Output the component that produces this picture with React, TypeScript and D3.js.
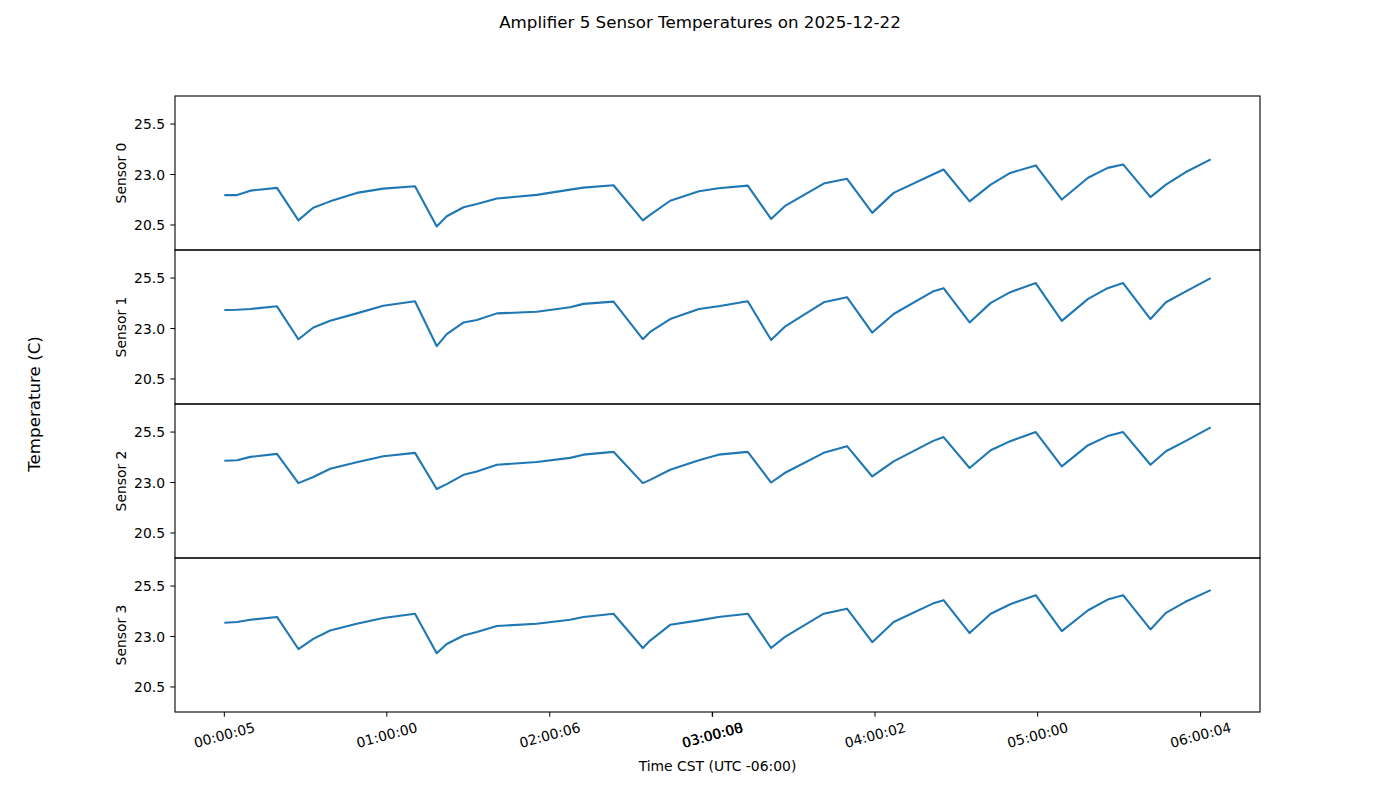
import React from 'react';
import * as d3 from 'd3';

// sample times, minutes after midnight on 2025-12-22 (CST)
const sampleMinutes = [
  0.083, 4.8, 9.7, 19.5, 27.4, 32.9, 39.1, 48.9, 58.7, 70.4, 78.4, 82.1, 88.3, 93.2, 100.6,
  115.3, 127.6, 132.5, 143.6, 154.4, 157.1, 164.5, 175.1, 182.3, 193.1, 201.7, 206.7, 221.1,
  229.7, 239.0, 246.9, 261.3, 265.3, 274.9, 282.7, 289.9, 299.3, 308.9, 318.6, 325.8, 331.5,
  341.6, 347.3, 354.5, 363.8,
];

const sensor0 = [
  21.98, 21.98, 22.2, 22.34, 20.73, 21.35, 21.67, 22.09, 22.3, 22.42, 20.43, 20.93, 21.38, 21.54,
  21.81, 21.99, 22.25, 22.35, 22.47, 20.73, 21.0, 21.7, 22.17, 22.32, 22.45, 20.8, 21.43, 22.55,
  22.79, 21.1, 22.09, 23.0, 23.25, 21.67, 22.5, 23.08, 23.45, 21.76, 22.84, 23.33, 23.5, 21.88,
  22.5, 23.11, 23.75,
];
const sensor1 = [
  23.92, 23.93, 23.97, 24.1, 22.47, 23.05, 23.38, 23.75, 24.13, 24.35, 22.13, 22.72, 23.3, 23.42,
  23.75, 23.83, 24.05, 24.22, 24.33, 22.47, 22.83, 23.47, 23.97, 24.1, 24.35, 22.43, 23.08, 24.3,
  24.55, 22.8, 23.72, 24.83, 25.0, 23.3, 24.27, 24.8, 25.25, 23.38, 24.47, 25.0, 25.25, 23.47,
  24.3, 24.83, 25.5,
];
const sensor2 = [
  24.08, 24.1, 24.27, 24.42, 22.97, 23.27, 23.68, 24.0, 24.3, 24.47, 22.68, 22.92, 23.38, 23.55,
  23.88, 24.02, 24.22, 24.38, 24.52, 22.97, 23.13, 23.63, 24.1, 24.38, 24.52, 23.0, 23.47, 24.47,
  24.8, 23.3, 24.05, 25.05, 25.25, 23.72, 24.6, 25.05, 25.5, 23.8, 24.85, 25.3, 25.5, 23.88,
  24.55, 25.05, 25.73,
];
const sensor3 = [
  23.68, 23.72, 23.83, 23.97, 22.38, 22.88, 23.3, 23.63, 23.92, 24.13, 22.17, 22.63, 23.05, 23.22,
  23.52, 23.63, 23.83, 23.97, 24.13, 22.43, 22.8, 23.58, 23.8, 23.97, 24.13, 22.43, 22.97, 24.13,
  24.38, 22.72, 23.72, 24.63, 24.8, 23.17, 24.13, 24.6, 25.05, 23.27, 24.3, 24.83, 25.05, 23.35,
  24.17, 24.72, 25.3,
];

const sensorNames = ['Sensor 0', 'Sensor 1', 'Sensor 2', 'Sensor 3'];
const yTicks = [20.5, 23.0, 25.5];
const xTickLabels = ['00:00:05', '01:00:00', '02:00:06', '03:00:00', '03:00:08', '04:00:02', '05:00:00', '06:00:04'];

const W = 1400;
const H = 800;
const left = 175;
const right = 1260;
const top = 96;
const panelH = 154;
const font = 'DejaVu Sans, sans-serif';
const blue = '#1f77b4';
const tickSize = 13.9;
const bigSize = 16.7;

const day = (min: number) => new Date(2025, 11, 22, 0, 0, 0, Math.round(min * 60000));
const parseHms = (s: string) => {
  const [h, m, sec] = s.split(':').map(Number);
  return new Date(2025, 11, 22, h, m, sec);
};

export default function App() {
  const series = [sensor0, sensor1, sensor2, sensor3];
  const t0 = sampleMinutes[0];
  const t1 = sampleMinutes[sampleMinutes.length - 1];
  const pad = (t1 - t0) * 0.05;
  const x = d3.scaleTime().domain([day(t0 - pad), day(t1 + pad)]).range([left, right]);
  const bottom = top + panelH * 4;

  return (
    <svg width={W} height={H} style={{ position: 'absolute', left: 0, top: 0 }} fontFamily={font}>
      <rect width={W} height={H} fill="#fff" />
      <text x={700} y={28} textAnchor="middle" fontSize={bigSize}>
        Amplifier 5 Sensor Temperatures on 2025-12-22
      </text>
      <text transform={`translate(40,${(top + bottom) / 2}) rotate(-90)`} textAnchor="middle" fontSize={bigSize}>
        Temperature (C)
      </text>
      {series.map((vals, i) => {
        const py = top + i * panelH;
        const y = d3.scaleLinear().domain([19.26, 26.89]).range([py + panelH, py]);
        const line = d3
          .line<number>()
          .x((_, j) => x(day(sampleMinutes[j])))
          .y((v) => y(v));
        return (
          <g key={i}>
            <path d={line(vals) ?? ''} fill="none" stroke={blue} strokeWidth={2.1} strokeLinejoin="round" />
            {yTicks.map((t) => (
              <g key={t}>
                <line x1={left - 4.7} x2={left} y1={y(t)} y2={y(t)} stroke="#000" strokeWidth={1} />
                <text x={left - 10} y={y(t)} textAnchor="end" dominantBaseline="central" fontSize={tickSize}>
                  {t.toFixed(1)}
                </text>
              </g>
            ))}
            <text
              transform={`translate(126,${py + panelH / 2}) rotate(-90)`}
              textAnchor="middle"
              fontSize={tickSize}
            >
              {sensorNames[i]}
            </text>
            <rect x={left} y={py} width={right - left} height={panelH} fill="none" stroke="#000" strokeWidth={1.1} />
          </g>
        );
      })}
      {xTickLabels.map((s) => {
        const tx = x(parseHms(s));
        return (
          <g key={s}>
            <line x1={tx} x2={tx} y1={bottom} y2={bottom + 4.7} stroke="#000" strokeWidth={1} />
            <text
              transform={`translate(${tx},735) rotate(-15)`}
              textAnchor="middle"
              dominantBaseline="central"
              fontSize={tickSize}
            >
              {s}
            </text>
          </g>
        );
      })}
      <text x={(left + right) / 2} y={771} textAnchor="middle" fontSize={tickSize}>
        Time CST (UTC -06:00)
      </text>
    </svg>
  );
}
